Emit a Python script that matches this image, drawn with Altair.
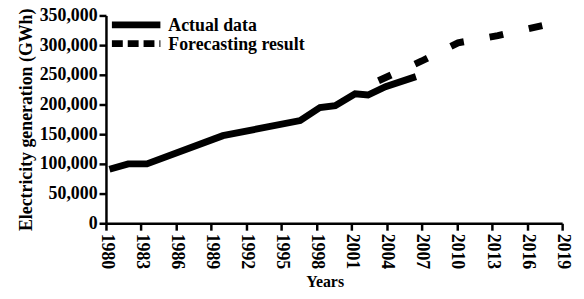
import altair as alt
import pandas as pd

# Actual data
actual_years = [1980.3, 1981.9, 1983.5, 1990.0, 1996.6, 1998.3, 1999.6, 2001.3, 2002.4, 2003.9, 2006.5]
actual_values = [91000, 100000, 100000, 147500, 173000, 195000, 198000, 218000, 216000, 230000, 247000]

# Forecasting result
forecast_years = [2003.3, 2007.0, 2010.1, 2013.5, 2017.3]
forecast_values = [240000, 273300, 303900, 316100, 333000]

x_ticks = [1980, 1983, 1986, 1989, 1992, 1995, 1998, 2001, 2004, 2007, 2010, 2013, 2016, 2019]
y_ticks = [0, 50000, 100000, 150000, 200000, 250000, 300000, 350000]

legend_labels = ["Actual data", "Forecasting result"]

FONT = "Liberation Serif"

df_a = pd.DataFrame({"year": actual_years, "value": actual_values, "series": "Actual data"})
df_f = pd.DataFrame({"year": forecast_years, "value": forecast_values, "series": "Forecasting result"})

x_enc = alt.X(
    "year:Q",
    scale=alt.Scale(domain=[1980, 2019], nice=False, zero=False),
    axis=alt.Axis(
        values=x_ticks, format="d", labelAngle=90, labelAlign="left", labelBaseline="middle",
        title="Years", titleFontSize=16, titlePadding=5, titleX=221, labelPadding=3,
        labelOverlap=False, labelFlush=False,
    ),
)
y_enc = alt.Y(
    "value:Q",
    scale=alt.Scale(domain=[0, 350000], nice=False),
    axis=alt.Axis(values=y_ticks, format=",d", title="Electricity generation (GWh)", titlePadding=4,
                  labelPadding=2, labelOverlap=False, labelFlush=False),
)

actual = alt.Chart(df_a).mark_line(color="black", strokeWidth=7, strokeCap="butt").encode(
    x=x_enc, y=y_enc
)
forecast = alt.Chart(df_f).mark_line(
    color="black", strokeWidth=7, strokeCap="butt", strokeDash=[14, 26.5]
).encode(x=x_enc, y=y_enc)

leg_df1 = pd.DataFrame({"label": [legend_labels[0]]})
leg_df2 = pd.DataFrame({"label": [legend_labels[1]]})

leg_line1 = alt.Chart(leg_df1).mark_rule(color="black", strokeWidth=7).encode(
    x=alt.value(6), x2=alt.value(55), y=alt.value(9.5)
)
leg_line2 = alt.Chart(leg_df2).mark_rule(color="black", strokeWidth=7, strokeDash=[11, 5]).encode(
    x=alt.value(6), x2=alt.value(55), y=alt.value(28.5)
)
leg_text1 = alt.Chart(leg_df1).mark_text(
    font=FONT, fontSize=18, fontWeight="bold", align="left", baseline="alphabetic", color="black"
).encode(text="label:N", x=alt.value(63), y=alt.value(15.5))
leg_text2 = alt.Chart(leg_df2).mark_text(
    font=FONT, fontSize=18, fontWeight="bold", align="left", baseline="alphabetic", color="black"
).encode(text="label:N", x=alt.value(63), y=alt.value(35))

chart = alt.layer(actual, forecast, leg_line1, leg_line2, leg_text1, leg_text2).properties(
    width=461, height=210,
    autosize=alt.AutoSizeParams(type="none"),
    padding={"left": 99, "top": 6, "right": 14, "bottom": 73},
).configure_view(stroke=None).configure_axis(
    grid=False, domainColor="black", domainWidth=2.5, tickColor="black", tickWidth=2.5, tickSize=7,
    labelFont=FONT, labelFontSize=18, labelFontWeight="bold", labelColor="black",
    titleFont=FONT, titleFontSize=18, titleColor="black", titleFontWeight="bold",
)

chart.save("out.html", embed_options={"renderer": "svg", "actions": False})
